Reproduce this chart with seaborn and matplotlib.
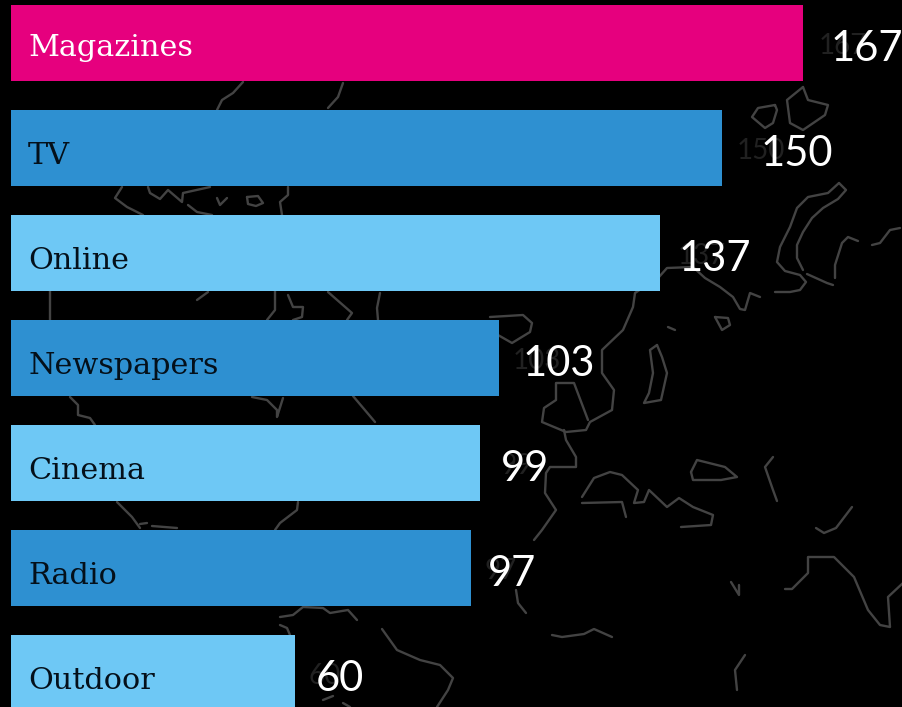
import matplotlib
matplotlib.use("Agg")
import matplotlib.pyplot as plt
import pandas as pd
import seaborn as sns

# Media channels and their index values
categories = ["Magazines", "TV", "Online", "Newspapers", "Cinema", "Radio", "Outdoor"]
values = [167, 150, 137, 103, 99, 97, 60]
bar_colors = ["#E6007E", "#2E90D1", "#6EC8F5", "#2E90D1", "#6EC8F5", "#2E90D1", "#6EC8F5"]
name_colors = ["#FFFFFF", "#04101A", "#04101A", "#04101A", "#04101A", "#04101A", "#04101A"]

# Gap in pixels between a bar's end and its number, and for the dim echo of that number
number_gaps = [28, 39, 18, 23, 21, 17, 20]
echo_gaps = [16, 15, 17, 13, 20, 14, 13]
name_offsets = [-13, -16, -16, -16, -16, -16, -16]

# Decorative world map outline, in figure pixels
coastlines = [
    [(839, 183), (846, 190), (838, 199), (823, 208), (812, 218), (803, 232), (797, 245), (797, 258), (803, 270)],
    [(839, 183), (828, 193), (808, 197), (797, 208), (790, 227), (780, 247), (777, 262), (785, 271), (800, 275),
     (806, 282), (800, 290), (790, 292), (775, 292)],
    [(760, 297), (750, 293), (745, 310), (740, 309), (733, 297), (720, 287), (705, 278), (693, 267), (667, 268),
     (659, 277), (635, 293), (633, 307), (623, 330), (602, 350), (602, 373), (614, 390), (612, 410), (590, 422),
     (586, 430), (566, 432), (542, 422), (544, 408), (556, 400), (556, 383), (574, 383), (588, 420)],
    [(564, 430), (566, 440), (576, 457), (576, 467), (550, 467), (546, 473), (545, 493), (556, 510), (542, 530),
     (534, 540)],
    [(657, 345), (650, 350), (653, 373), (649, 393), (644, 403), (661, 400), (667, 373), (662, 357), (657, 345)],
    [(582, 497), (594, 478), (610, 472), (622, 475), (638, 490), (634, 503), (644, 502), (649, 490), (667, 507),
     (679, 498), (693, 507), (713, 515), (711, 525), (681, 527)],
    [(582, 503), (622, 502), (626, 517)],
    [(691, 472), (697, 460), (725, 467), (737, 477), (721, 480), (693, 480), (691, 472)],
    [(773, 457), (765, 467), (773, 490), (777, 501)],
    [(852, 507), (836, 528), (824, 533), (816, 528)],
    [(903, 583), (888, 597), (890, 627), (880, 625), (868, 610), (854, 577), (834, 557), (808, 557), (808, 573),
     (792, 589), (785, 589)],
    [(516, 590), (518, 603), (526, 613)],
    [(552, 635), (562, 637), (584, 634), (594, 629), (612, 637)],
    [(745, 655), (735, 670), (737, 690)],
    [(731, 582), (739, 595), (739, 585)],
    [(353, 396), (375, 422)],
    [(117, 502), (132, 517), (140, 528)],
    [(140, 524), (147, 523)],
    [(152, 526), (177, 528)],
    [(298, 502), (297, 510), (280, 523), (275, 530)],
    [(280, 617), (293, 615), (303, 607), (323, 608), (330, 613), (348, 610), (357, 620)],
    [(382, 629), (397, 650), (420, 660), (440, 665), (453, 678), (448, 690), (437, 707)],
    [(280, 625), (287, 628), (290, 635)],
    [(323, 700), (333, 696)],
    [(343, 703), (350, 707)],
    [(50, 285), (50, 320)],
    [(208, 292), (197, 300)],
    [(275, 285), (275, 310), (267, 320)],
    [(288, 295), (293, 307), (303, 307), (302, 317), (293, 320)],
    [(328, 292), (352, 313), (347, 320)],
    [(380, 293), (377, 308), (378, 320)],
    [(490, 317), (523, 315), (532, 323), (530, 332), (512, 343), (498, 335)],
    [(243, 82), (233, 93), (222, 100), (217, 110)],
    [(343, 83), (338, 97), (328, 108)],
    [(122, 187), (115, 198), (127, 207), (143, 215)],
    [(148, 187), (150, 193), (160, 199), (168, 190), (182, 202), (183, 193), (210, 187)],
    [(188, 205), (197, 212), (212, 215)],
    [(247, 197), (258, 196), (263, 203), (256, 206), (248, 204), (247, 197)],
    [(217, 198), (220, 205), (227, 198)],
    [(288, 187), (288, 195), (280, 202), (282, 215)],
    [(70, 397), (78, 405), (78, 415), (90, 418), (95, 425)],
    [(252, 397), (267, 400), (277, 410), (277, 417), (283, 398)],
    [(803, 87), (808, 100), (828, 105), (825, 115), (803, 130), (790, 123), (787, 100), (803, 87)],
    [(775, 105), (758, 108), (752, 117), (765, 128), (773, 123), (777, 110), (775, 105)],
    [(715, 317), (728, 318), (730, 325), (722, 330), (715, 317)],
    [(668, 327), (675, 330)],
    [(900, 228), (890, 230), (880, 243), (872, 245)],
    [(858, 241), (848, 237), (842, 243), (835, 265), (835, 278)],
    [(807, 274), (827, 283), (833, 285)],
]

WIDTH, HEIGHT = 903, 707
PX_PER_UNIT = 4.74
LEFT_PX = 11
PITCH_PX = 105
BAR_PX = 76
FIRST_CENTRE_PX = 43

sns.set_theme(style="white", rc={"figure.facecolor": "black", "axes.facecolor": "none"})
fig = plt.figure(figsize=(WIDTH / 100, HEIGHT / 100), dpi=100)

map_ax = fig.add_axes([0, 0, 1, 1], zorder=0)
map_ax.set_xlim(0, WIDTH)
map_ax.set_ylim(HEIGHT, 0)
map_ax.axis("off")
for outline in coastlines:
    xs, ys = zip(*outline)
    map_ax.plot(xs, ys, color="#434343", lw=1.7, solid_joinstyle="round")

ax = fig.add_axes([0, 0, 1, 1], zorder=1)
frame = pd.DataFrame({"channel": categories, "value": values})
sns.barplot(
    data=frame, x="value", y="channel", hue="channel", order=categories, hue_order=categories,
    palette=bar_colors, saturation=1, width=BAR_PX / PITCH_PX, legend=False, ax=ax, linewidth=0,
)
ax.set_xlim(-LEFT_PX / PX_PER_UNIT, (WIDTH - LEFT_PX) / PX_PER_UNIT)
ax.set_ylim((HEIGHT - FIRST_CENTRE_PX) / PITCH_PX, -FIRST_CENTRE_PX / PITCH_PX)
ax.axis("off")

for i, (name, value) in enumerate(zip(categories, values)):
    # Channel name inside the bar
    ax.annotate(
        name, xy=(0, i), xytext=(17, name_offsets[i]), xycoords="data", textcoords="offset pixels",
        family="DejaVu Serif", fontsize=21.8, color=name_colors[i], va="baseline", ha="left",
    )
    # Dim echo behind the number
    ax.annotate(
        str(value), xy=(value, i), xytext=(echo_gaps[i], -11), xycoords="data", textcoords="offset pixels",
        family="Lato", fontsize=20, color="#212121", va="baseline", ha="left",
    )
    # Value number to the right of the bar
    ax.annotate(
        str(value), xy=(value, i), xytext=(number_gaps[i], -18), xycoords="data", textcoords="offset pixels",
        family="Lato", fontsize=30, color="white", va="baseline", ha="left",
    )

fig.savefig("out.png", dpi=100, facecolor="black")
